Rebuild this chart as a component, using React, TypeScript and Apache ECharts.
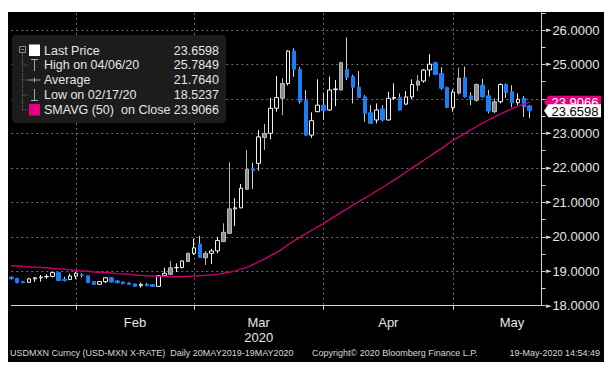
import React, { useEffect, useRef } from "react";
import * as echarts from "echarts";

// ---- categories (trading days) ----
const janDays = [16, 17, 20, 21, 22, 23, 24, 27, 28, 29, 30, 31];
const febDays = [3, 4, 5, 6, 7, 10, 11, 12, 13, 14, 17, 18, 19, 20, 21, 24, 25, 26, 27, 28];
const marDays = [2, 3, 4, 5, 6, 9, 10, 11, 12, 13, 16, 17, 18, 19, 20, 23, 24, 25, 26, 27, 30, 31];
const aprDays = [1, 2, 3, 6, 7, 8, 9, 10, 13, 14, 15, 16, 17, 20, 21, 22, 23, 24, 27, 28, 29, 30];
const mayDays = [1, 4, 5, 6, 7, 8, 11, 12, 13, 14, 15, 18, 19];
const emptySlots = ["2020-05-20", "2020-05-21"];

// ---- OHLC values ----
const opens = [
  18.83, 18.79, 18.7, 18.68, 18.78, 18.81, 18.84, 18.85, 18.96, 18.77, 18.76, 18.86,
  18.9, 18.87, 18.7, 18.62, 18.7, 18.81, 18.72, 18.69, 18.66, 18.63, 18.58, 18.62, 18.61, 18.56, 18.87, 18.91, 19.1, 19.11, 19.28, 19.52,
  19.79, 19.39, 19.52, 19.59, 19.86, 20.1, 20.81, 20.84, 21.38, 21.97, 22.13, 22.88, 23.0, 23.73, 24.02, 24.45, 25.39, 24.86, 23.95, 22.95, 23.63, 23.82,
  23.68, 24.27, 24.26, 24.86, 24.65, 24.34, 24.06, 23.6, 23.39, 23.71, 23.39, 24.02, 24.04, 23.85, 24.06, 24.4, 24.52, 24.84, 25.05, 24.74, 24.33, 23.75,
  24.17, 24.62, 24.09, 23.96, 24.4, 24.09, 23.63, 23.92, 24.42, 24.21, 23.89, 24.02, 23.8,
];
const highs = [
  18.85, 18.81, 18.72, 18.81, 18.82, 18.89, 18.91, 18.97, 18.97, 18.84, 18.93, 18.99,
  18.94, 18.88, 18.71, 18.71, 18.83, 18.83, 18.74, 18.7, 18.68, 18.64, 18.67, 18.66, 18.63, 18.88, 19.1, 19.3, 19.23, 19.31, 19.54, 19.94,
  20.03, 19.59, 19.65, 20.0, 20.39, 22.16, 21.12, 21.53, 22.52, 22.15, 23.1, 23.27, 24.03, 24.67, 24.6, 25.42, 25.47, 24.93, 24.26, 23.61, 24.57, 24.18,
  24.65, 24.55, 25.08, 25.7849, 24.7, 24.81, 24.11, 23.82, 23.87, 23.82, 24.21, 24.45, 24.16, 24.23, 24.57, 24.69, 24.87, 25.3, 25.08, 24.92, 24.36, 24.28,
  24.91, 24.94, 24.19, 24.45, 24.58, 24.26, 24.02, 24.45, 24.45, 24.4, 24.16, 24.09, 23.82,
];
const lows = [
  18.76, 18.65, 18.65, 18.66, 18.69, 18.7, 18.78, 18.82, 18.72, 18.7, 18.74, 18.77,
  18.82, 18.66, 18.6, 18.61, 18.66, 18.67, 18.65, 18.62, 18.6, 18.55, 18.5237, 18.56, 18.55, 18.55, 18.84, 18.89, 18.98, 19.08, 19.27, 19.47,
  19.4, 19.18, 19.21, 19.52, 19.85, 20.08, 20.31, 20.83, 21.36, 21.39, 21.92, 22.52, 22.83, 23.63, 23.53, 24.39, 24.64, 23.87, 22.93, 22.87, 23.62, 23.39,
  23.65, 23.79, 24.24, 24.55, 23.87, 24.02, 23.34, 23.28, 23.29, 23.35, 23.37, 23.97, 23.66, 23.82, 24.0, 24.23, 24.47, 24.65, 24.69, 24.26, 23.73, 23.63,
  24.13, 24.04, 23.82, 23.92, 24.04, 23.58, 23.58, 23.87, 24.03, 23.76, 23.82, 23.48, 23.44,
];
const closes = [
  18.78, 18.67, 18.67, 18.78, 18.81, 18.83, 18.85, 18.96, 18.73, 18.73, 18.86, 18.94,
  18.88, 18.67, 18.62, 18.7, 18.81, 18.69, 18.67, 18.64, 18.62, 18.56, 18.62, 18.58, 18.56, 18.87, 18.94, 19.1, 19.11, 19.3, 19.52, 19.68,
  19.4, 19.52, 19.59, 19.89, 20.13, 20.81, 20.84, 21.41, 21.96, 21.92, 22.9, 23.0, 23.73, 24.04, 24.45, 25.39, 24.86, 23.92, 22.95, 23.37, 23.82, 23.66,
  24.26, 24.29, 25.05, 24.63, 24.34, 24.04, 23.58, 23.29, 23.68, 23.39, 24.02, 24.04, 23.68, 24.06, 24.42, 24.52, 24.84, 25.01, 24.71, 24.31, 23.75, 24.2,
  24.6, 24.06, 23.99, 24.42, 24.06, 23.65, 23.92, 24.42, 24.18, 23.89, 23.99, 23.77, 23.6598,
];
const closeBeforeFirst = 18.86;

// ---- 50-day simple moving average on close ----
const sma50 = [
  19.16, 19.15, 19.14, 19.13, 19.12, 19.11, 19.1, 19.08, 19.07, 19.06, 19.04, 19.02,
  19.01, 19.0, 18.98, 18.97, 18.96, 18.95, 18.93, 18.92, 18.91, 18.89, 18.88, 18.87, 18.86, 18.85, 18.85, 18.84, 18.84, 18.84, 18.85, 18.86,
  18.87, 18.88, 18.89, 18.91, 18.94, 18.97, 19.01, 19.06, 19.11, 19.19, 19.27, 19.36, 19.45, 19.54, 19.65, 19.77, 19.88, 19.99, 20.09, 20.19, 20.29, 20.39,
  20.5, 20.6, 20.71, 20.81, 20.92, 21.02, 21.12, 21.22, 21.33, 21.43, 21.54, 21.65, 21.76, 21.88, 21.99, 22.1, 22.22, 22.33, 22.45, 22.56, 22.68, 22.8,
  22.9, 23.0, 23.1, 23.2, 23.3, 23.39, 23.47, 23.56, 23.64, 23.72, 23.79, 23.85, 23.9066,
];

// ---- axis / text content ----
const yMin = 18;
const yMax = 26.5;
const yStep = 1;
const yMinorStep = 0.5;
const monthLabelDates = ["2020-02-14", "2020-03-16", "2020-04-15", "2020-05-14"];
const monthLabelTexts = ["Feb", "Mar\n2020", "Apr", "May"];
const averageText = "21.7640";
const legendLabels = ["Last Price", "High on 04/06/20", "Average", "Low on 02/17/20", "SMAVG (50)"];
const legendSmaSuffix = "on Close";
const footerLeft = "USDMXN Curncy (USD-MXN X-RATE)  Daily 20MAY2019-19MAY2020";
const footerMid = "Copyright\u00A9 2020 Bloomberg Finance L.P.";
const footerRight = "19-May-2020 14:54:49";

const FONT = "'Liberation Sans', Arial, sans-serif";
const TXT = "#e6e6e6";
const BLUE = "#1a7ef5";
const PINK = "#e6007e";
const SMA_LINE = "#c4006f";

const pad = (d: number) => (d < 10 ? "0" + d : "" + d);
const dates: string[] = [
  ...janDays.map((d) => "2020-01-" + pad(d)),
  ...febDays.map((d) => "2020-02-" + pad(d)),
  ...marDays.map((d) => "2020-03-" + pad(d)),
  ...aprDays.map((d) => "2020-04-" + pad(d)),
  ...mayDays.map((d) => "2020-05-" + pad(d)),
];
const categories = [...dates, ...emptySlots];
const monthEnds = new Set<number>();
dates.forEach((d, i) => {
  if (i + 1 < dates.length && dates[i + 1].slice(0, 7) !== d.slice(0, 7)) monthEnds.add(i);
});

type Tone = { fill: string; border: string; wick: string };
const toneOf = (i: number): Tone => {
  const prev = i === 0 ? closeBeforeFirst : closes[i - 1];
  if (closes[i] < opens[i]) return { fill: BLUE, border: BLUE, wick: "#d2d2d2" };
  if (opens[i] < prev) return { fill: "#8e8e8e", border: "#b8b8b8", wick: "#b8b8b8" };
  return { fill: "#000000", border: "#f2f2f2", wick: "#f2f2f2" };
};

export default function App() {
  const ref = useRef<HTMLDivElement>(null);
  useEffect(() => {
    if (!ref.current) return;
    const chart = echarts.init(ref.current, null, { renderer: "svg" });
    const n = dates.length;
    const last = n - 1;
    const tagValues = [sma50[last], closes[last]];

    const wickData = dates.map((_, i) => {
      const t = toneOf(i);
      return {
        value: [opens[i], closes[i], lows[i], highs[i]],
        itemStyle: { color: t.wick, color0: t.wick, borderColor: t.wick, borderColor0: t.wick, borderColorDoji: t.wick, borderWidth: 1 },
      };
    });
    const bodyData = dates.map((_, i) => {
      const t = toneOf(i);
      return {
        value: [opens[i], closes[i], Math.min(opens[i], closes[i]), Math.max(opens[i], closes[i])],
        itemStyle: { color: t.fill, color0: t.fill, borderColor: t.border, borderColor0: t.border, borderColorDoji: t.border, borderWidth: 1 },
      };
    });

    const rowsY = [38.5, 53, 68, 83, 97.7];
    const legendValues = [
      closes[last].toFixed(4),
      Math.max(...highs).toFixed(4),
      averageText,
      Math.min(...lows).toFixed(4),
      sma50[last].toFixed(4),
    ];
    const LFONT = `12.5px ${FONT}`;
    const iconStroke = "#a6a6a6";
    const treeStroke = "#6f6f6f";
    const staticGraphics: any[] = [
      { type: "rect", z: 100, shape: { x: 4, y: 23, width: 214, height: 88, r: 4 }, style: { fill: "#1c1c1c" } },
      { type: "rect", z: 101, shape: { x: 11.5, y: 34.5, width: 6, height: 6 }, style: { fill: "none", stroke: "#8a8a8a", lineWidth: 1 } },
      { type: "line", z: 101, shape: { x1: 13, y1: 37.5, x2: 16, y2: 37.5 }, style: { stroke: "#8a8a8a", lineWidth: 1 } },
      { type: "line", z: 101, shape: { x1: 14.5, y1: 41, x2: 14.5, y2: rowsY[4] }, style: { stroke: treeStroke, lineWidth: 1, lineDash: [1, 1] } },
      ...rowsY.slice(1).map((y) => ({
        type: "line", z: 101, shape: { x1: 14.5, y1: y, x2: 19.5, y2: y }, style: { stroke: treeStroke, lineWidth: 1, lineDash: [1, 1] },
      })),
      { type: "rect", z: 101, shape: { x: 21, y: 32.5, width: 11, height: 11.5 }, style: { fill: "#ffffff" } },
      { type: "line", z: 101, shape: { x1: 23, y1: 47.5, x2: 30, y2: 47.5 }, style: { stroke: iconStroke, lineWidth: 1 } },
      { type: "line", z: 101, shape: { x1: 26.5, y1: 47.5, x2: 26.5, y2: 59 }, style: { stroke: iconStroke, lineWidth: 1 } },
      { type: "line", z: 101, shape: { x1: 20.5, y1: 68, x2: 32.5, y2: 68 }, style: { stroke: iconStroke, lineWidth: 1 } },
      { type: "line", z: 101, shape: { x1: 26.5, y1: 65.5, x2: 26.5, y2: 70.5 }, style: { stroke: iconStroke, lineWidth: 1 } },
      { type: "line", z: 101, shape: { x1: 26.5, y1: 77, x2: 26.5, y2: 88.5 }, style: { stroke: iconStroke, lineWidth: 1 } },
      { type: "line", z: 101, shape: { x1: 23, y1: 88.5, x2: 30, y2: 88.5 }, style: { stroke: iconStroke, lineWidth: 1 } },
      { type: "rect", z: 101, shape: { x: 21, y: 92, width: 11, height: 11.5 }, style: { fill: PINK } },
      ...legendLabels.map((t, k) => ({
        type: "text", z: 102, style: { text: t, x: 36, y: rowsY[k], fill: TXT, font: LFONT, verticalAlign: "middle", align: "left" },
      })),
      { type: "text", z: 102, style: { text: legendSmaSuffix, x: 113, y: rowsY[4], fill: TXT, font: LFONT, verticalAlign: "middle", align: "left" } },
      ...legendValues.map((t, k) => ({
        type: "text", z: 102, style: { text: t, x: 211, y: rowsY[k], fill: TXT, font: LFONT, verticalAlign: "middle", align: "right" },
      })),
      { type: "text", z: 102, style: { text: footerLeft, x: 2, y: 341, fill: "#d8d8d8", font: `9px ${FONT}`, verticalAlign: "middle", align: "left" } },
      { type: "text", z: 102, style: { text: footerMid, x: 304, y: 341, fill: "#d8d8d8", font: `9px ${FONT}`, verticalAlign: "middle", align: "left" } },
      { type: "text", z: 102, style: { text: footerRight, x: 592, y: 341, fill: "#d8d8d8", font: `9px ${FONT}`, verticalAlign: "middle", align: "right" } },
    ];

    chart.setOption({
      animation: false,
      backgroundColor: "#000000",
      textStyle: { fontFamily: FONT },
      grid: { left: 3.3, right: 62.5, top: 0.8, bottom: 56.3, containLabel: false },
      xAxis: {
        type: "category",
        data: categories,
        boundaryGap: false,
        axisLine: { show: true, lineStyle: { color: "#d6d6d6", width: 1 } },
        axisTick: { show: true, length: 4, interval: (i: number) => monthEnds.has(i), lineStyle: { color: "#d6d6d6" } },
        splitLine: { show: true, interval: (i: number) => monthEnds.has(i), lineStyle: { color: "#707070", type: [2, 3], width: 1 } },
        axisLabel: {
          show: true,
          interval: (_i: number, v: string) => monthLabelDates.indexOf(v) >= 0,
          formatter: (v: string) => {
            const k = monthLabelDates.indexOf(v);
            return k >= 0 ? monthLabelTexts[k] : "";
          },
          color: TXT,
          fontSize: 13,
          lineHeight: 15,
          margin: 9,
          fontFamily: FONT,
        },
      },
      yAxis: [
        {
          type: "value",
          position: "right",
          min: yMin,
          max: yMax,
          interval: yStep,
          axisLine: { show: true, lineStyle: { color: "#d6d6d6", width: 1 } },
          axisTick: { show: false },
          splitLine: { show: true, showMaxLine: false, showMinLine: false, lineStyle: { color: "#707070", type: [2, 3], width: 1 } },
          axisLabel: {
            show: true,
            showMaxLabel: false,
            margin: 4.5,
            color: TXT,
            fontSize: 13,
            fontFamily: FONT,
            // labels lying under the price tags are hidden, as in the reference
            formatter: (v: number) =>
              tagValues.some((t) => Math.abs(t - v) < 0.4) ? "" : "{t|\u25BA}" + v.toFixed(4),
            rich: { t: { fontFamily: "'DejaVu Sans'", fontSize: 7, color: "#d6d6d6", padding: [0, 1, 0, 0] } },
          },
        },
        {
          type: "value",
          position: "right",
          min: yMin,
          max: yMax,
          interval: yMinorStep,
          axisLine: { show: false },
          axisTick: { show: true, length: 4, lineStyle: { color: "#d6d6d6" } },
          axisLabel: { show: false },
          splitLine: { show: false },
        },
      ],
      series: [
        { name: "wick", type: "candlestick", data: wickData, barWidth: 0.001, clip: false, silent: true, z: 2 },
        { name: "Last Price", type: "candlestick", data: bodyData, barWidth: 4, clip: false, silent: true, z: 3 },
        {
          name: "SMAVG (50) on Close",
          type: "line",
          data: sma50,
          symbol: "none",
          silent: true,
          z: 4,
          lineStyle: { color: SMA_LINE, width: 1.4 },
        },
      ],
      graphic: staticGraphics,
    });

    const ySma = chart.convertToPixel({ yAxisIndex: 0 }, sma50[last]) as number;
    const yLast = chart.convertToPixel({ yAxisIndex: 0 }, closes[last]) as number;
    const tag = (y: number, fill: string, textColor: string, text: string) => [
      {
        type: "polygon", z: 110,
        shape: { points: [[536, y], [540.5, y - 6.5], [593, y - 6.5], [593, y + 6.5], [540.5, y + 6.5]] },
        style: { fill },
      },
      { type: "text", z: 111, style: { text, x: 543.5, y: y + 0.5, fill: textColor, font: `13px ${FONT}`, verticalAlign: "middle", align: "left" } },
    ];
    chart.setOption({
      graphic: [
        ...staticGraphics,
        ...tag(ySma, PINK, "#ffffff", sma50[last].toFixed(4)),
        ...tag(yLast, "#ffffff", "#000000", closes[last].toFixed(4)),
      ],
    });

    return () => chart.dispose();
  }, []);

  return (
    <div style={{ position: "fixed", left: 0, top: 0, width: 608, height: 370, background: "#ffffff" }}>
      <div ref={ref} style={{ position: "absolute", left: 8, top: 12, width: 596, height: 350 }} />
    </div>
  );
}
